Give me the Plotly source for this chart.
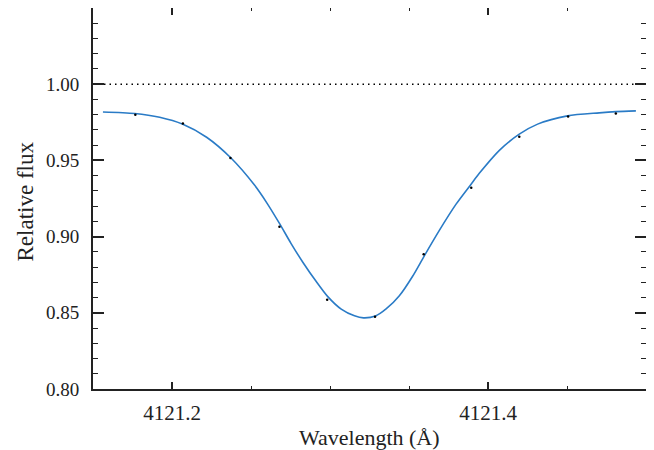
import plotly.graph_objects as go

# Observed data points
obs_wave = [4121.1768, 4121.2069, 4121.2370, 4121.2680, 4121.2982, 4121.3285,
            4121.3593, 4121.3894, 4121.4198, 4121.4507, 4121.4809]
obs_flux = [0.9800, 0.9742, 0.9515, 0.9064, 0.8586, 0.8474,
            0.8885, 0.9320, 0.9655, 0.9788, 0.9807]

# Model profile
model_wave = [4121.1563, 4121.1764, 4121.1922, 4121.2069, 4121.2219, 4121.2375,
              4121.2522, 4121.2601, 4121.2681, 4121.2753, 4121.2828, 4121.2913,
              4121.2986, 4121.3071, 4121.3155, 4121.3212, 4121.3288, 4121.3355,
              4121.3439, 4121.3523, 4121.3597, 4121.3692, 4121.3798, 4121.3893,
              4121.3945, 4121.4072, 4121.4198, 4121.4314, 4121.4503, 4121.4704,
              4121.4810, 4121.4936]
model_flux = [0.9818, 0.9808, 0.9783, 0.9737, 0.9652, 0.9514,
              0.9338, 0.9220, 0.9085, 0.8956, 0.8832, 0.8705,
              0.8606, 0.8524, 0.8480, 0.8467, 0.8479, 0.8525,
              0.8612, 0.8740, 0.8874, 0.9041, 0.9213, 0.9344,
              0.9415, 0.9566, 0.9672, 0.9738, 0.9792, 0.9812,
              0.9820, 0.9825]

continuum_level = 1.0
x_range = [4121.15, 4121.50]
y_range = [0.80, 1.05]
x_tickvals = [4121.2, 4121.4]
x_ticktext = ["4121.2", "4121.4"]
y_tickvals = [0.80, 0.85, 0.90, 0.95, 1.00]
y_ticktext = ["0.80", "0.85", "0.90", "0.95", "1.00"]

fig = go.Figure()
fig.add_trace(go.Scatter(x=x_range, y=[continuum_level, continuum_level], mode="lines",
                         line=dict(color="black", width=1.5, dash="1.5px,4px"),
                         showlegend=False, hoverinfo="skip"))
fig.add_trace(go.Scatter(x=model_wave, y=model_flux, mode="lines",
                         line=dict(color="#2a7bc6", width=1.6, shape="spline", smoothing=0.8),
                         showlegend=False))
fig.add_trace(go.Scatter(x=obs_wave, y=obs_flux, mode="markers",
                         marker=dict(color="black", size=2.5),
                         showlegend=False))

font_family = "Liberation Serif, Times New Roman, serif"
# page body has an 8px default margin; figure size and margins compensate for it
fig.update_layout(
    width=646, height=442,
    margin=dict(l=85, r=8, t=0, b=61),
    paper_bgcolor="white", plot_bgcolor="white",
    font=dict(family=font_family, size=21, color="#222"),
    xaxis=dict(range=x_range, tickmode="array", tickvals=x_tickvals, ticktext=x_ticktext,
               ticks="inside", ticklen=7, tickwidth=1.5, tickcolor="#222",
               showline=True, linecolor="#222", linewidth=2, mirror="allticks",
               showgrid=False, zeroline=False, automargin=False,
               tickfont=dict(size=21),
               minor=dict(dtick=0.05, tick0=4121.0, ticks="inside", ticklen=3,
                          tickwidth=1.2, tickcolor="#222", showgrid=False),
               ticklabelstandoff=4),
    yaxis=dict(range=y_range, tickmode="array", tickvals=y_tickvals, ticktext=y_ticktext,
               ticks="inside", ticklen=11, tickwidth=1.5, tickcolor="#222",
               showline=True, linecolor="#222", linewidth=2, mirror="allticks",
               showgrid=False, zeroline=False, automargin=False,
               tickfont=dict(size=19),
               minor=dict(dtick=0.01, tick0=0.8, ticks="inside", ticklen=5,
                          tickwidth=1.2, tickcolor="#222", showgrid=False),
               ticklabelstandoff=8),
    annotations=[
        dict(text="Wavelength (Å)", xref="paper", yref="paper", x=0.5, y=0,
             xanchor="center", yanchor="middle", yshift=-48, showarrow=False,
             font=dict(size=22, family=font_family, color="#222")),
        dict(text="Relative flux", xref="paper", yref="paper", x=0, y=0.5,
             xanchor="center", yanchor="middle", xshift=-68, yshift=-3, textangle=-90,
             showarrow=False, font=dict(size=23, family=font_family, color="#222")),
    ],
)

fig.write_html("out.html")
